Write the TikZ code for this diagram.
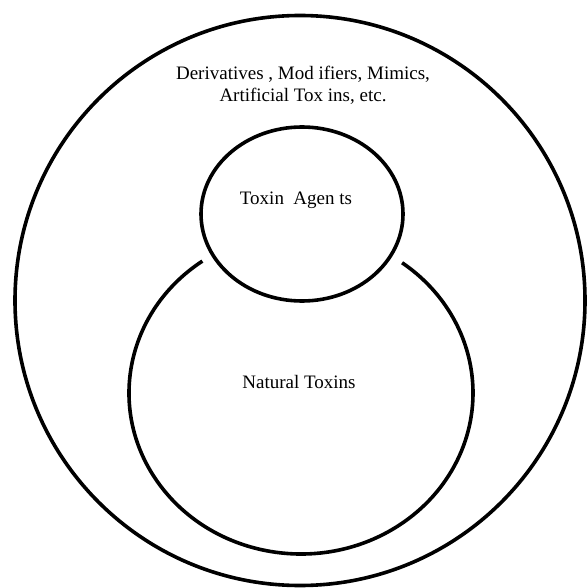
\documentclass[tikz,border=0pt]{standalone}
\usepackage{fontspec}
\setmainfont{Liberation Serif}
\usepackage{tikz}
\usetikzlibrary{positioning}

\begin{document}
\begin{tikzpicture}[x=0.5pt,y=0.5pt]
\tikzstyle{every node}+=[inner sep=0pt,font=\fontsize{9.5}{11}\selectfont]
\tikzstyle{ring}=[black,line width=1.8pt]
\useasboundingbox (0,0) rectangle (588,-588);
\draw [ring] (300,-300.5) circle (285);
\draw (303,-85) node [align=center] (derived) {Derivatives , Mod ifiers, Mimics,\\Artificial Tox ins, etc.};
\draw [ring] (302,-214) ellipse [x radius=101, y radius=87];
\draw (296,-200) node (agents) {Toxin\ \ Agen ts};
\draw [ring] (301,-393) ++(125:172 and 161) arc [start angle=125, end angle=414, x radius=172, y radius=161];
\draw (299,-382) node (natural) {Natural Toxins};
\end{tikzpicture}
\end{document}
